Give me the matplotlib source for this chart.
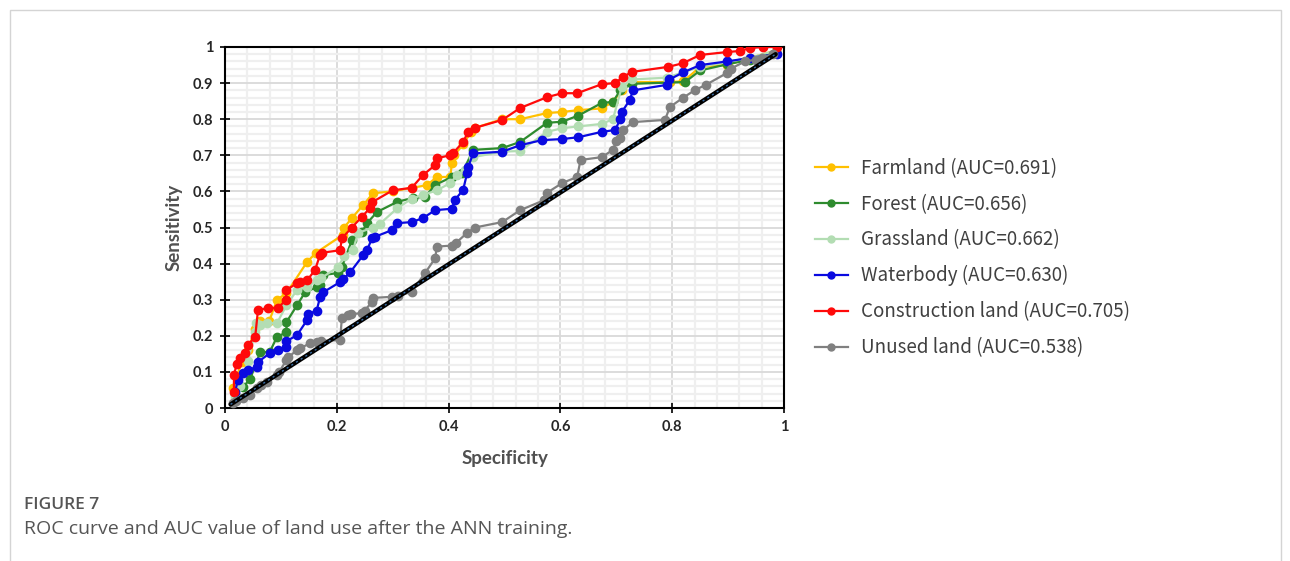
import matplotlib
matplotlib.use("Agg")
import matplotlib.pyplot as plt
from matplotlib.patches import Rectangle
from matplotlib.ticker import MultipleLocator

# ---------------- data ----------------
farm_x = [0.014,0.03,0.041,0.054,0.063,0.079,0.093,0.11,0.147,0.163,0.211,0.213,0.227,0.247,0.265,0.30,0.334,0.361,0.379,0.403,0.406,0.41,0.426,0.44,0.447,0.496,0.528,0.576,0.603,0.632,0.674,0.694,0.71,0.728,0.796,0.82,0.85,0.898,0.94,0.985]
farm_y = [0.056,0.127,0.16,0.22,0.24,0.24,0.30,0.318,0.405,0.43,0.48,0.50,0.526,0.562,0.595,0.60,0.61,0.617,0.64,0.64,0.68,0.70,0.73,0.765,0.776,0.80,0.80,0.817,0.82,0.825,0.83,0.848,0.88,0.903,0.903,0.905,0.945,0.95,0.97,0.99]

forest_x = [0.018,0.032,0.045,0.063,0.08,0.093,0.11,0.11,0.129,0.143,0.164,0.17,0.175,0.202,0.209,0.227,0.245,0.254,0.272,0.308,0.336,0.358,0.376,0.406,0.424,0.444,0.496,0.528,0.576,0.603,0.632,0.674,0.694,0.707,0.728,0.823,0.85,0.898,0.94,0.985]
forest_y = [0.04,0.058,0.08,0.155,0.155,0.197,0.21,0.238,0.285,0.32,0.335,0.34,0.368,0.374,0.39,0.465,0.487,0.512,0.543,0.571,0.582,0.585,0.618,0.64,0.65,0.715,0.72,0.737,0.79,0.793,0.81,0.845,0.848,0.88,0.898,0.903,0.935,0.952,0.965,0.985]

grass_x = [0.018,0.027,0.041,0.054,0.056,0.063,0.075,0.093,0.11,0.129,0.147,0.164,0.172,0.202,0.213,0.229,0.238,0.265,0.277,0.308,0.334,0.354,0.379,0.403,0.415,0.43,0.444,0.496,0.528,0.576,0.603,0.632,0.674,0.694,0.71,0.728,0.79,0.85,0.94,0.985]
grass_y = [0.03,0.06,0.13,0.21,0.236,0.23,0.235,0.235,0.285,0.327,0.335,0.354,0.36,0.39,0.42,0.437,0.485,0.50,0.51,0.553,0.58,0.59,0.603,0.623,0.645,0.66,0.695,0.71,0.712,0.765,0.775,0.78,0.787,0.80,0.89,0.91,0.915,0.945,0.97,0.99]

water_x = [0.018,0.023,0.032,0.041,0.057,0.059,0.08,0.095,0.11,0.11,0.129,0.147,0.149,0.164,0.17,0.175,0.206,0.211,0.224,0.247,0.254,0.263,0.268,0.299,0.308,0.334,0.354,0.376,0.406,0.411,0.426,0.433,0.435,0.444,0.496,0.528,0.567,0.603,0.632,0.674,0.698,0.707,0.71,0.724,0.73,0.79,0.795,0.82,0.85,0.898,0.94,0.987]
water_y = [0.044,0.078,0.097,0.105,0.114,0.127,0.152,0.16,0.17,0.185,0.202,0.244,0.26,0.27,0.307,0.32,0.349,0.356,0.376,0.423,0.437,0.47,0.474,0.493,0.512,0.515,0.526,0.548,0.552,0.576,0.604,0.65,0.668,0.705,0.71,0.728,0.742,0.745,0.75,0.765,0.77,0.80,0.82,0.853,0.88,0.895,0.91,0.93,0.95,0.96,0.97,0.98]

constr_x = [0.016,0.016,0.021,0.027,0.036,0.041,0.054,0.059,0.077,0.095,0.109,0.11,0.129,0.135,0.147,0.161,0.17,0.173,0.206,0.209,0.227,0.245,0.259,0.263,0.30,0.334,0.354,0.376,0.379,0.403,0.408,0.426,0.435,0.447,0.496,0.528,0.576,0.603,0.63,0.674,0.698,0.712,0.728,0.793,0.819,0.85,0.898,0.921,0.939,0.962,0.987]
constr_y = [0.044,0.091,0.122,0.138,0.152,0.175,0.197,0.271,0.277,0.277,0.30,0.327,0.346,0.35,0.354,0.382,0.424,0.43,0.437,0.47,0.50,0.53,0.553,0.57,0.603,0.61,0.645,0.673,0.692,0.70,0.706,0.737,0.765,0.776,0.798,0.831,0.861,0.872,0.872,0.897,0.90,0.917,0.931,0.945,0.955,0.978,0.986,0.989,0.997,1.0,1.0]

unused_x = [0.014,0.02,0.032,0.045,0.057,0.065,0.075,0.093,0.097,0.11,0.113,0.129,0.135,0.152,0.164,0.172,0.206,0.209,0.22,0.226,0.245,0.25,0.263,0.265,0.299,0.31,0.334,0.358,0.376,0.379,0.406,0.413,0.433,0.447,0.496,0.528,0.57,0.576,0.603,0.63,0.636,0.674,0.694,0.70,0.707,0.712,0.73,0.787,0.796,0.82,0.84,0.86,0.898,0.905,0.93,0.95,0.96,0.98]
unused_y = [0.014,0.02,0.028,0.036,0.055,0.065,0.072,0.091,0.10,0.133,0.14,0.161,0.165,0.18,0.184,0.186,0.188,0.249,0.258,0.26,0.263,0.27,0.294,0.305,0.308,0.31,0.322,0.374,0.415,0.447,0.45,0.457,0.485,0.50,0.515,0.548,0.575,0.596,0.623,0.64,0.687,0.695,0.715,0.74,0.748,0.77,0.792,0.798,0.834,0.86,0.88,0.895,0.928,0.94,0.96,0.965,0.97,0.98]

diag_x = [0.01, 0.985]
diag_y = [0.01, 0.98]

labels = ["Farmland (AUC=0.691)", "Forest (AUC=0.656)", "Grassland (AUC=0.662)",
          "Waterbody (AUC=0.630)", "Construction land (AUC=0.705)", "Unused land (AUC=0.538)"]
colors = ["#FFC000", "#2E8B2E", "#B3DDB3", "#0A0AE0", "#FF0A0A", "#808080"]
xticks = [0, 0.2, 0.4, 0.6, 0.8, 1]
xticklabels = ["0", "0.2", "0.4", "0.6", "0.8", "1"]
yticks = [0, 0.1, 0.2, 0.3, 0.4, 0.5, 0.6, 0.7, 0.8, 0.9, 1]
yticklabels = ["0", "0.1", "0.2", "0.3", "0.4", "0.5", "0.6", "0.7", "0.8", "0.9", "1"]

series = [(farm_x, farm_y), (forest_x, forest_y), (grass_x, grass_y),
          (water_x, water_y), (constr_x, constr_y), (unused_x, unused_y)]

# ---------------- figure ----------------
W, H = 1290, 561
fig = plt.figure(figsize=(W/100, H/100), dpi=100)
fig.patches.append(Rectangle((10/W, -0.05), (1281-10)/W, 1.05 - 10/H, transform=fig.transFigure,
                             fill=False, edgecolor="#d4d4d4", linewidth=1.0))

ax = fig.add_axes([225/W, 1-408/H, (784-225)/W, (408-47)/H])
ax.set_xlim(0, 1)
ax.set_ylim(0, 1)

ax.xaxis.set_minor_locator(MultipleLocator(0.04))
ax.yaxis.set_minor_locator(MultipleLocator(0.02))
ax.grid(which="minor", color="#efefef", linewidth=1.6, zorder=0)
ax.grid(which="major", color="#d9d9d9", linewidth=1.3, zorder=0)
ax.set_axisbelow(True)

for (xs, ys), c, lab in zip(series, colors, labels):
    ax.plot(xs, ys, color=c, lw=1.6, marker="o", ms=6, mec=c, mfc=c, label=lab, zorder=3)

ax.plot(diag_x, diag_y, color="black", lw=3.2, zorder=4, solid_capstyle="round")
ax.plot(diag_x, diag_y, color="#3a6ea5", lw=1.0, ls=(0, (1.5, 2.5)), zorder=5)

ax.set_xticks(xticks)
ax.set_xticklabels(xticklabels)
ax.set_yticks(yticks)
ax.set_yticklabels(yticklabels)
ax.tick_params(which="minor", length=0)
ax.tick_params(which="major", direction="inout", length=7, width=1.2, color="black",
               labelsize=10.5, labelcolor="#262626", pad=5)
for lbl in ax.get_xticklabels() + ax.get_yticklabels():
    lbl.set_fontfamily("Lato")
    lbl.set_fontweight("bold")
for s in ax.spines.values():
    s.set_color("black")
    s.set_linewidth(1.5)

ax.set_xlabel("Specificity", fontfamily="Lato", fontweight="bold", fontsize=13.5,
              color="#505050", labelpad=12)
ax.set_ylabel("Sensitivity", fontfamily="Lato", fontweight="bold", fontsize=13.5,
              color="#505050", labelpad=7)

leg_handles = [plt.Line2D([], [], color=c, lw=1.6, marker="o", ms=5, mec=c, mfc=c) for c in colors]
fig.legend(leg_handles, labels, loc="center left", bbox_to_anchor=(798/W, 1-258/H),
           frameon=False, handlelength=1.76, handletextpad=0.7, labelspacing=0.79,
           prop={"family": ["Noto Sans CJK SC", "DejaVu Sans"], "size": 13.5}, labelcolor="#404040")

fig.text(24/W, 1-505/H, "FIGURE 7", fontfamily="Open Sans", fontweight="semibold", fontsize=12.5,
         color="#555555", va="center", ha="left")
fig.text(24/W, 1-529/H, "ROC curve and AUC value of land use after the ANN training.",
         fontfamily="Open Sans", fontsize=14, color="#555555", va="center", ha="left")

fig.savefig("out.png", dpi=100)
